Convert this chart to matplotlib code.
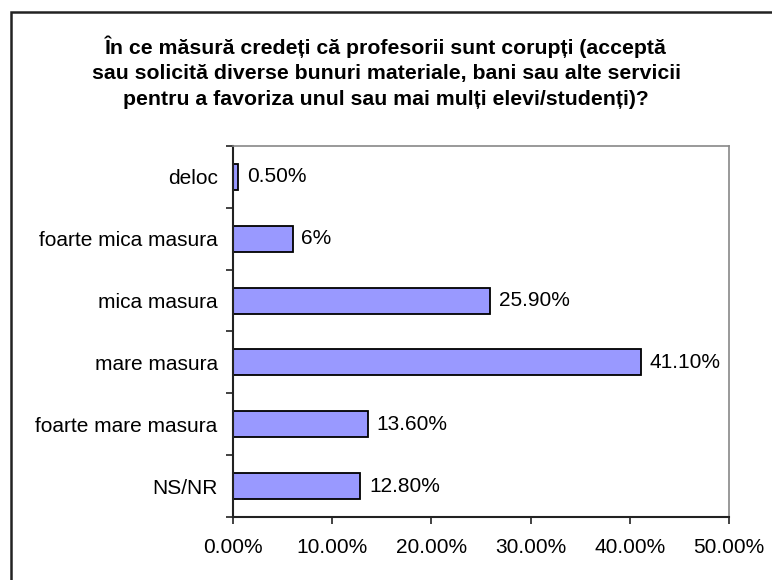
import matplotlib
matplotlib.use("Agg")
import matplotlib.pyplot as plt
from matplotlib.patches import Rectangle
import numpy as np

plt.rcParams['font.family'] = ['Liberation Sans', 'DejaVu Sans']

categories = ["deloc", "foarte mica masura", "mica masura",
              "mare masura", "foarte mare masura", "NS/NR"]
values = [0.5, 6, 25.9, 41.1, 13.6, 12.8]
value_labels = ["0.50%", "6%", "25.90%", "41.10%", "13.60%", "12.80%"]
xticks = [0, 10, 20, 30, 40, 50]
xtick_labels = ["0.00%", "10.00%", "20.00%", "30.00%", "40.00%", "50.00%"]

title = ("În ce măsură credeți că profesorii sunt corupți (acceptă\n"
         "sau solicită diverse bunuri materiale, bani sau alte servicii\n"
         "pentru a favoriza unul sau mai mulți elevi/studenți)?")

fig = plt.figure(figsize=(7.72, 5.8), dpi=100)
ax = fig.add_axes([0.3018, 0.1086, 0.6425, 0.6397])

y = np.arange(len(categories))
ax.barh(y, values, height=0.42, color="#9999FF", edgecolor="black", linewidth=1.3)
for yi, v, lab in zip(y, values, value_labels):
    ax.text(v + 0.9, yi, lab, va="center", ha="left", fontsize=15)

ax.set_ylim(len(categories) - 0.5, -0.5)
ax.set_xlim(0, 50)
ax.set_yticks(y)
ax.set_yticklabels(categories, fontsize=15)
ax.set_yticks(np.arange(len(categories) + 1) - 0.5, minor=True)
ax.tick_params(axis="y", which="major", length=0, pad=11)
ax.tick_params(axis="y", which="minor", length=5, width=1.2, color="#222222", direction="out")
ax.set_xticks(xticks)
ax.set_xticklabels(xtick_labels, fontsize=15)
ax.tick_params(axis="x", length=5, width=1.2, color="#222222", direction="out", pad=10)

for s in ["left", "bottom"]:
    ax.spines[s].set_color("#222222")
    ax.spines[s].set_linewidth(1.5)
for s in ["top", "right"]:
    ax.spines[s].set_color("#888888")
    ax.spines[s].set_linewidth(1.2)

fig.text(0.5, 0.876, title, ha="center", va="center", fontsize=15.3,
         fontweight="bold", linespacing=1.43)

fig.patches.append(Rectangle((0.0142, -0.05), 1.1, 1.029, transform=fig.transFigure,
                             fill=False, edgecolor="#222222", linewidth=1.8))

fig.savefig("out.png", dpi=100)
